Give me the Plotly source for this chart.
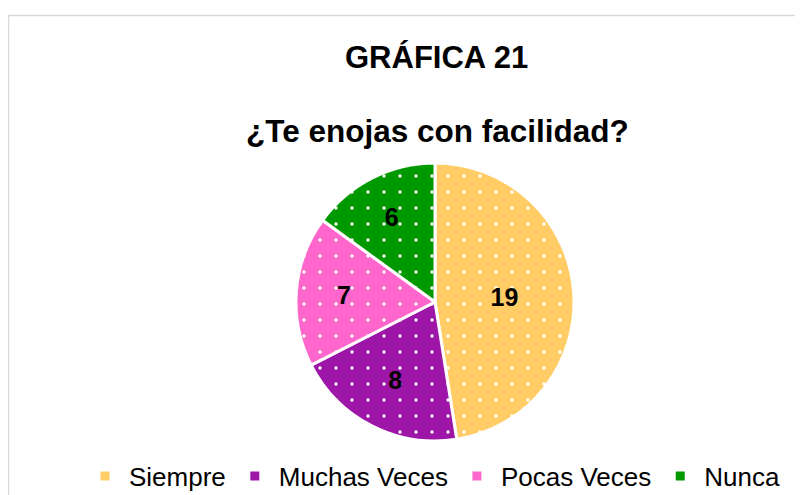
import plotly.graph_objects as go

categories = ["Siempre", "Muchas Veces", "Pocas Veces", "Nunca"]
values = [19, 8, 7, 6]
colors = ["#FFCC66", "#9E16A8", "#FF66CC", "#009900"]
title_text = "GRÁFICA 21"
subtitle_text = "¿Te enojas con facilidad?"

W, H = 803, 495
OFF = 8  # page body margin of the browser
FONT = "Arial, 'Liberation Sans', sans-serif"


def px(x):
    return (x - OFF) / W


def py(y):
    return 1 - (y - OFF) / H


cx, cy, r = 435, 302, 139

fig = go.Figure(go.Pie(
    labels=categories,
    values=values,
    sort=False,
    direction="clockwise",
    rotation=0,
    marker=dict(
        colors=colors,
        line=dict(color="white", width=3),
        pattern=dict(shape=".", fgcolor="white", bgcolor=colors,
                     size=16, solidity=0.035, fillmode="replace"),
    ),
    textinfo="value",
    textposition="inside",
    insidetextorientation="horizontal",
    textfont=dict(family=FONT, size=25, color="black", weight="bold"),
    domain=dict(x=[px(cx - r), px(cx + r)], y=[py(cy + r), py(cy - r)]),
    hoverinfo="label+value",
))

fig.update_layout(
    width=W, height=H,
    margin=dict(l=0, r=0, t=0, b=0),
    paper_bgcolor="white",
    plot_bgcolor="white",
    font=dict(family=FONT, color="black"),
    showlegend=True,
    legend=dict(
        orientation="h",
        x=px(433), xanchor="center",
        y=py(476), yanchor="middle",
        font=dict(family=FONT, size=26, color="black"),
        itemwidth=38,
        traceorder="normal",
    ),
    annotations=[
        dict(text=title_text, x=px(436), y=py(58), xref="paper", yref="paper",
             xanchor="center", yanchor="middle", showarrow=False,
             font=dict(family=FONT, size=31, color="black", weight="bold")),
        dict(text=subtitle_text, x=px(437), y=py(131), xref="paper", yref="paper",
             xanchor="center", yanchor="middle", showarrow=False,
             font=dict(family=FONT, size=31.5, color="black", weight="bold")),
    ],
    shapes=[
        dict(type="rect", xref="paper", yref="paper",
             x0=px(8.5), x1=1.05, y0=-0.05, y1=py(15.5),
             line=dict(color="#D9D9D9", width=1.5), fillcolor="rgba(0,0,0,0)", layer="below"),
    ],
)

fig.write_html("out.html")
